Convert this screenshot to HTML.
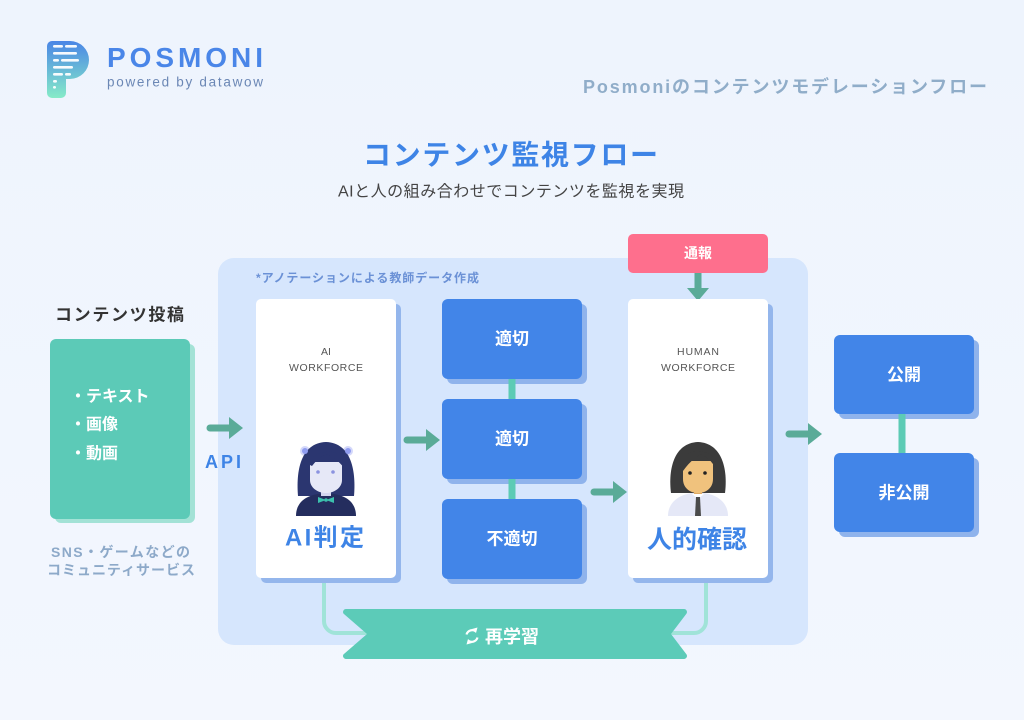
<!DOCTYPE html>
<html><head><meta charset="utf-8">
<style>
html,body{margin:0;padding:0;background:#eff5fe;}
svg{display:block;}
text{font-family:"Liberation Sans","Noto Sans CJK JP",sans-serif;}
</style></head>
<body>
<svg width="1024" height="720" viewBox="0 0 1024 720" xmlns="http://www.w3.org/2000/svg">
<defs>
<linearGradient id="bg" x1="0" y1="0" x2="0" y2="1">
<stop offset="0" stop-color="#eef4fd"/><stop offset="1" stop-color="#f3f7fe"/>
</linearGradient>
<linearGradient id="logo" x1="0" y1="0" x2="0" y2="1">
<stop offset="0" stop-color="#4a86e6"/><stop offset="1" stop-color="#86ebc8"/>
</linearGradient>
</defs>
<rect width="1024" height="720" fill="url(#bg)"/>

<!-- Logo -->
<path d="M47,46 a5,5 0 0 1 5,-5 H70 a19,19 0 0 1 0,38 H66 V93 a5,5 0 0 1 -5,5 H52 a5,5 0 0 1 -5,-5 Z" fill="url(#logo)"/>
<g fill="#ffffff" opacity="0.95">
<rect x="53" y="45" width="10" height="2.6" rx="1.3"/><rect x="65" y="45" width="12" height="2.6" rx="1.3"/>
<rect x="53" y="52" width="24" height="2.6" rx="1.3"/>
<rect x="53" y="59" width="6" height="2.6" rx="1.3"/><rect x="61" y="59" width="18" height="2.6" rx="1.3"/>
<rect x="53" y="66" width="20" height="2.6" rx="1.3"/>
<rect x="53" y="73" width="10" height="2.6" rx="1.3"/><rect x="65" y="73" width="6" height="2.6" rx="1.3"/>
<rect x="53" y="80" width="4" height="2.6" rx="1.3"/>
<rect x="53" y="86" width="3" height="2.6" rx="1.3"/>
</g>
<text x="107" y="67" font-size="28" font-weight="bold" fill="#4a86e8" textLength="156" lengthAdjust="spacing">POSMONI</text>
<text x="107" y="82" font-size="13.5" fill="#6b87b5" dominant-baseline="central" textLength="156" lengthAdjust="spacing">powered by datawow</text>

<text x="583" y="87" font-size="18" font-weight="bold" fill="#90adc9" dominant-baseline="central" textLength="404" lengthAdjust="spacing">Posmoniのコンテンツモデレーションフロー</text>

<text x="363" y="155" font-size="28" font-weight="bold" fill="#3e84e6" dominant-baseline="central" textLength="295" lengthAdjust="spacing">コンテンツ監視フロー</text>
<text x="338" y="192" font-size="16" fill="#444" dominant-baseline="central" textLength="346" lengthAdjust="spacing">AIと人の組み合わせでコンテンツを監視を実現</text>

<!-- Main panel -->
<rect x="218" y="258" width="590" height="387" rx="16" fill="#d6e6fd"/>
<text x="256" y="278" font-size="12" font-weight="bold" fill="#6b91d6" dominant-baseline="central" textLength="223" lengthAdjust="spacing">*アノテーションによる教師データ作成</text>

<!-- Content posting -->
<text x="55" y="315" font-size="17" font-weight="bold" fill="#333" dominant-baseline="central" textLength="129" lengthAdjust="spacing">コンテンツ投稿</text>
<rect x="55" y="344" width="140" height="179" rx="6" fill="#a3e2d6"/>
<rect x="50" y="339" width="140" height="180" rx="6" fill="#5ccab7"/>
<g font-size="16" font-weight="bold" fill="#fff">
<text x="70" y="397" dominant-baseline="central">・テキスト</text>
<text x="70" y="425" dominant-baseline="central">・画像</text>
<text x="70" y="454" dominant-baseline="central">・動画</text>
</g>
<text x="51" y="552" font-size="14" font-weight="bold" fill="#8da9c9" dominant-baseline="central" textLength="139" lengthAdjust="spacing">SNS・ゲームなどの</text>
<text x="47" y="570" font-size="14" font-weight="bold" fill="#8da9c9" dominant-baseline="central" textLength="148" lengthAdjust="spacing">コミュニティサービス</text>

<!-- Arrows -->
<g fill="#5aab98">
<path d="M210,424.5 H229 V417 L243,428 L229,439 V431.5 H210 a3.5,3.5 0 0 1 0,-7 Z"/>
<path d="M407,436.5 H426 V429 L440,440 L426,451 V443.5 H407 a3.5,3.5 0 0 1 0,-7 Z"/>
<path d="M594,488.5 H613 V481 L627,492 L613,503 V495.5 H594 a3.5,3.5 0 0 1 0,-7 Z"/>
<path d="M789,430.5 H808 V423 L822,434 L808,445 V437.5 H789 a3.5,3.5 0 0 1 0,-7 Z"/>
</g>
<text x="205" y="462" font-size="18" font-weight="bold" fill="#3e84e6" dominant-baseline="central" textLength="36" lengthAdjust="spacing">API</text>

<!-- Lines to ribbon -->
<path d="M324,580 V621 a12,12 0 0 0 12,12 H370" fill="none" stroke="#a0e3d8" stroke-width="4"/>
<path d="M706,580 V621 a12,12 0 0 1 -12,12 H664" fill="none" stroke="#a0e3d8" stroke-width="4"/>

<!-- AI card -->
<rect x="261" y="304" width="140" height="279" rx="5" fill="#94b6ec"/>
<rect x="256" y="299" width="140" height="279" rx="5" fill="#ffffff"/>
<text x="326" y="352" font-size="10.5" fill="#555" text-anchor="middle" dominant-baseline="central">AI</text>
<text x="289" y="368" font-size="10.5" fill="#555" dominant-baseline="central" textLength="74" lengthAdjust="spacing">WORKFORCE</text>
<g transform="translate(296,440)">
<circle cx="9" cy="11" r="5" fill="#a9b2f5" opacity="0.5"/>
<circle cx="52" cy="11" r="5" fill="#a9b2f5" opacity="0.5"/>
<path d="M2,56 C0,32 4,3 30,2 C56,3 60,32 58,56 Z" fill="#2b3670"/>
<path d="M0,76 C0,63 9,56 22,54 L38,54 C51,56 60,63 60,76 Z" fill="#242d5e"/>
<rect x="25" y="48" width="10" height="8" fill="#d3d6ef"/>
<path d="M14,22 L46,22 L46,40 C46,48 38,53 30,53 C22,53 14,48 14,40 Z" fill="#e6e8f7"/>
<path d="M12,24 C18,12 30,10 34,14 C28,14 22,18 16,26 Z" fill="#2b3670"/>
<path d="M30,12 C40,10 48,16 48,28 C42,20 36,16 30,14 Z" fill="#2b3670"/>
<circle cx="22" cy="32" r="1.8" fill="#8b93e0"/>
<circle cx="37" cy="32" r="1.8" fill="#8b93e0"/>
<path d="M22,57 L30,60 L22,63 Z M38,57 L30,60 L38,63 Z" fill="#3cc1ad"/>
<circle cx="30" cy="60" r="1.8" fill="#3cc1ad"/>
<circle cx="9" cy="11" r="3" fill="#8f9cf0"/>
<circle cx="52" cy="11" r="3" fill="#8f9cf0"/>
</g>
<text x="285" y="538" font-size="24" font-weight="bold" fill="#3e84e6" dominant-baseline="central" textLength="79" lengthAdjust="spacing">AI判定</text>

<!-- Judgment boxes -->
<g>
<rect x="447" y="304" width="140" height="80" rx="6" fill="#8fb3ec"/>
<rect x="442" y="299" width="140" height="80" rx="6" fill="#4285e8"/>
<rect x="447" y="404" width="140" height="80" rx="6" fill="#8fb3ec"/>
<rect x="442" y="399" width="140" height="80" rx="6" fill="#4285e8"/>
<rect x="447" y="504" width="140" height="80" rx="6" fill="#8fb3ec"/>
<rect x="442" y="499" width="140" height="80" rx="6" fill="#4285e8"/>
</g>
<rect x="508.5" y="379" width="7" height="20" fill="#5ccbb5"/>
<rect x="508.5" y="479" width="7" height="20" fill="#5ccbb5"/>
<g font-size="17" font-weight="bold" fill="#fff" text-anchor="middle">
<text x="512" y="339" dominant-baseline="central">適切</text>
<text x="512" y="439" dominant-baseline="central">適切</text>
<text x="512" y="539" dominant-baseline="central">不適切</text>
</g>

<!-- Report -->
<rect x="628" y="234" width="140" height="39" rx="5" fill="#fe6f8d"/>
<text x="698" y="253" font-size="14" font-weight="bold" fill="#fff" text-anchor="middle" dominant-baseline="central">通報</text>
<path d="M694.5,273 V288 H687 L698,301 L709,288 H701.5 V273 Z" fill="#5aab98"/>

<!-- Human card -->
<rect x="633" y="304" width="140" height="279" rx="5" fill="#94b6ec"/>
<rect x="628" y="299" width="140" height="279" rx="5" fill="#ffffff"/>
<text x="677" y="352" font-size="10.5" fill="#555" dominant-baseline="central" textLength="42" lengthAdjust="spacing">HUMAN</text>
<text x="661" y="368" font-size="10.5" fill="#555" dominant-baseline="central" textLength="74" lengthAdjust="spacing">WORKFORCE</text>
<g transform="translate(668,441)">
<path d="M3,52 C0,28 6,2 30,1 C54,2 60,28 57,52 Z" fill="#3b3b3b"/>
<path d="M0,75 C0,62 10,54 24,52 L36,52 C50,54 60,62 60,75 Z" fill="#e5e8f7"/>
<rect x="26" y="46" width="8" height="8" fill="#e0ac68"/>
<path d="M15,20 L45,20 L45,38 C45,47 38,52 30,52 C22,52 15,47 15,38 Z" fill="#f0c27d"/>
<path d="M12,28 C14,12 26,8 36,12 C30,14 22,20 15,30 Z" fill="#3b3b3b"/>
<path d="M32,11 C42,10 49,18 48,28 C44,20 38,15 32,13 Z" fill="#3b3b3b"/>
<circle cx="22" cy="32" r="1.8" fill="#222"/>
<circle cx="37" cy="32" r="1.8" fill="#222"/>
<path d="M24,53 L30,58 L36,53 Z" fill="#ffffff"/>
<path d="M28,56 L32,56 L33,75 L27,75 Z" fill="#4b4b4b"/>
</g>
<text x="647" y="540" font-size="25" font-weight="bold" fill="#3e84e6" dominant-baseline="central" textLength="100" lengthAdjust="spacing">人的確認</text>

<!-- Publish boxes -->
<rect x="839" y="340" width="140" height="79" rx="6" fill="#8fb3ec"/>
<rect x="834" y="335" width="140" height="79" rx="6" fill="#4285e8"/>
<rect x="839" y="458" width="140" height="79" rx="6" fill="#8fb3ec"/>
<rect x="834" y="453" width="140" height="79" rx="6" fill="#4285e8"/>
<rect x="898.5" y="414" width="7" height="39" fill="#5ccbb5"/>
<g font-size="17" font-weight="bold" fill="#fff" text-anchor="middle">
<text x="904" y="375" dominant-baseline="central">公開</text>
<text x="904" y="493" dominant-baseline="central">非公開</text>
</g>

<!-- Ribbon -->
<path d="M346,609 H684 a3,3 0 0 1 2.5,4.6 L671,634 L686.5,654.4 a3,3 0 0 1 -2.5,4.6 H346 a3,3 0 0 1 -2.5,-4.6 L367,634 L343.5,613.6 a3,3 0 0 1 2.5,-4.6 Z" fill="#5ccbb8"/>
<g transform="translate(472,636)" fill="none" stroke="#fff" stroke-width="2.2">
<path d="M-5.5,-1.5 A6,6 0 0 1 4,-4.5"/>
<path d="M5.5,1.5 A6,6 0 0 1 -4,4.5"/>
</g>
<path d="M476,633 L477.5,627.5 L472,629 Z" fill="#fff"/>
<path d="M468,639 L466.5,644.5 L472,643 Z" fill="#fff"/>
<text x="485" y="637" font-size="18" font-weight="bold" fill="#fff" dominant-baseline="central" textLength="54" lengthAdjust="spacing">再学習</text>
</svg>
</body></html>
